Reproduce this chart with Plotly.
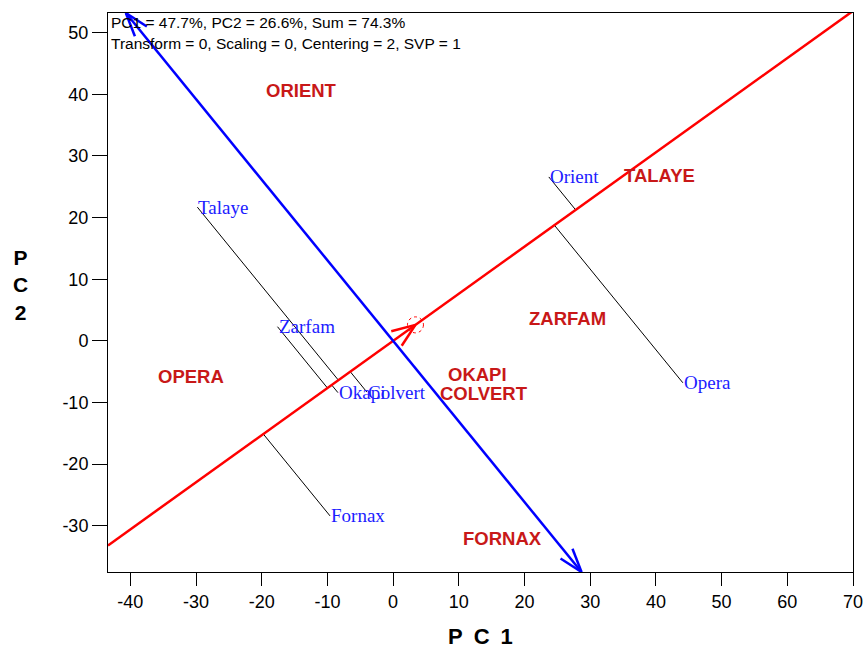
import math
import plotly.graph_objects as go

# Genotype scores (PC1, PC2)
genotypes = ["Orient", "Talaye", "Zarfam", "Okapi", "Colvert", "Fornax", "Opera"]
g_pc1 = [23.7, -29.8, -17.6, -8.4, -4.0, -9.6, 44.1]
g_pc2 = [26.6, 21.7, 2.3, -8.4, -8.3, -28.4, -6.8]

# Environment scores (PC1, PC2)
environments = ["ORIENT", "TALAYE", "ZARFAM", "OKAPI", "COLVERT", "FORNAX", "OPERA"]
e_pc1 = [-14.0, 40.6, 26.6, 12.8, 13.8, 16.7, -30.7]
e_pc2 = [40.6, 26.9, 3.7, -5.5, -8.6, -32.1, -5.7]

# Average environment coordinate
mean_env = [3.4, 2.6]

x_ticks = list(range(-40, 71, 10))
y_ticks = list(range(-30, 51, 10))
x_range = [-43.4, 70]
y_range = [-37.5, 53.2]

header_lines = [
    "PC1 = 47.7%, PC2 = 26.6%, Sum = 74.3%",
    "Transform = 0, Scaling = 0, Centering = 2, SVP = 1",
]

W, H = 864, 649
M = dict(l=108, r=11, t=13, b=77)
plot_w = W - M["l"] - M["r"]
plot_h = H - M["t"] - M["b"]
sx = plot_w / (x_range[1] - x_range[0])
sy = plot_h / (y_range[1] - y_range[0])

RED = "#ff0000"
BLUE = "#0000ff"
LABEL_RED = "#c81818"
LABEL_BLUE = "#1c1cff"

# unit vector of the average-environment axis and its perpendicular
norm = math.hypot(mean_env[0], mean_env[1])
ux, uy = mean_env[0] / norm, mean_env[1] / norm
vx, vy = -uy, ux


def arrow_head(tip, frm, length, ang):
    dx = (tip[0] - frm[0]) * sx
    dy = (tip[1] - frm[1]) * sy
    n = math.hypot(dx, dy)
    bx, by = -dx / n, -dy / n
    xs, ys = [], []
    for s in (1, -1):
        a = math.radians(ang * s)
        rx = bx * math.cos(a) - by * math.sin(a)
        ry = bx * math.sin(a) + by * math.cos(a)
        xs += [tip[0] + rx * length / sx, tip[0], None]
        ys += [tip[1] + ry * length / sy, tip[1], None]
    return xs, ys


fig = go.Figure()

# projections of genotypes onto the average-environment axis
px, py = [], []
for x, y in zip(g_pc1, g_pc2):
    t = x * ux + y * uy
    px += [x, t * ux, None]
    py += [y, t * uy, None]
fig.add_trace(go.Scatter(x=px, y=py, mode="lines",
                         line=dict(color="black", width=1), hoverinfo="skip"))

# average-environment axis (abscissa) through the origin
k_lo = x_range[0] / ux
k_hi = x_range[1] / ux
fig.add_trace(go.Scatter(x=[k_lo * ux, k_hi * ux], y=[k_lo * uy, k_hi * uy],
                         mode="lines", line=dict(color=RED, width=2.5),
                         hoverinfo="skip"))
hx, hy = arrow_head(mean_env, [0, 0], 25, 21)
fig.add_trace(go.Scatter(x=hx, y=hy, mode="lines",
                         line=dict(color=RED, width=2.5), hoverinfo="skip"))

# ordinate, perpendicular through the origin, arrows at both ends
t_top = y_range[1] / vy
t_bot = y_range[0] / vy
top = [t_top * vx, t_top * vy]
bot = [t_bot * vx, t_bot * vy]
fig.add_trace(go.Scatter(x=[top[0], bot[0]], y=[top[1], bot[1]], mode="lines",
                         line=dict(color=BLUE, width=2.5), hoverinfo="skip"))
for tip, frm in ((top, bot), (bot, top)):
    hx, hy = arrow_head(tip, frm, 25, 18)
    fig.add_trace(go.Scatter(x=hx, y=hy, mode="lines",
                             line=dict(color=BLUE, width=2.5), hoverinfo="skip"))

annotations = []
for name, x, y in zip(genotypes, g_pc1, g_pc2):
    annotations.append(dict(x=x, y=y, text=name, showarrow=False,
                            xanchor="left", yanchor="middle", borderpad=0,
                            font=dict(family="Liberation Serif", size=19,
                                      color=LABEL_BLUE)))
for name, x, y in zip(environments, e_pc1, e_pc2):
    annotations.append(dict(x=x, y=y, text="<b>%s</b>" % name, showarrow=False,
                            xanchor="center", yanchor="middle", borderpad=0,
                            font=dict(family="Liberation Sans", size=18.5,
                                      color=LABEL_RED)))
for i, line in enumerate(header_lines):
    annotations.append(dict(xref="paper", yref="paper", x=0, y=1,
                            xanchor="left", yanchor="middle",
                            xshift=2, yshift=-(9 + 21 * i),
                            text=line, showarrow=False, borderpad=0,
                            font=dict(family="Liberation Sans", size=15.5,
                                      color="black")))
annotations.append(dict(xref="paper", yref="paper", x=0.5, y=0,
                        xanchor="center", yanchor="middle", yshift=-64,
                        text="<b>P\u2002C\u20021</b>", showarrow=False,
                        font=dict(family="Liberation Sans", size=22,
                                  color="black")))
annotations.append(dict(xref="paper", yref="paper", x=0, y=0.5,
                        xanchor="center", yanchor="middle", xshift=-88,
                        yshift=8, text="<b>P<br>C<br>2</b>", showarrow=False,
                        font=dict(family="Liberation Sans", size=21,
                                  color="black")))

fig.add_shape(type="circle", xref="x", yref="y",
              xsizemode="pixel", ysizemode="pixel",
              xanchor=mean_env[0], yanchor=mean_env[1],
              x0=-8, x1=8, y0=-8, y1=8,
              line=dict(color=RED, width=1, dash="dot"))

axis_common = dict(showgrid=False, zeroline=False, showline=True, mirror=True,
                   linecolor="black", linewidth=1, ticks="outside",
                   tickcolor="black", tickwidth=1, automargin=False,
                   tickfont=dict(family="Liberation Sans", size=18,
                                 color="black"))

fig.update_layout(
    width=W, height=H, margin=M,
    paper_bgcolor="white", plot_bgcolor="white",
    showlegend=False, annotations=annotations,
    xaxis=dict(range=x_range, tickvals=x_ticks,
               ticktext=[str(v) for v in x_ticks], ticklen=13, **axis_common),
    yaxis=dict(range=y_range, tickvals=y_ticks,
               ticktext=[str(v) for v in y_ticks], ticklen=15, **axis_common),
)

fig.write_html("out.html")
